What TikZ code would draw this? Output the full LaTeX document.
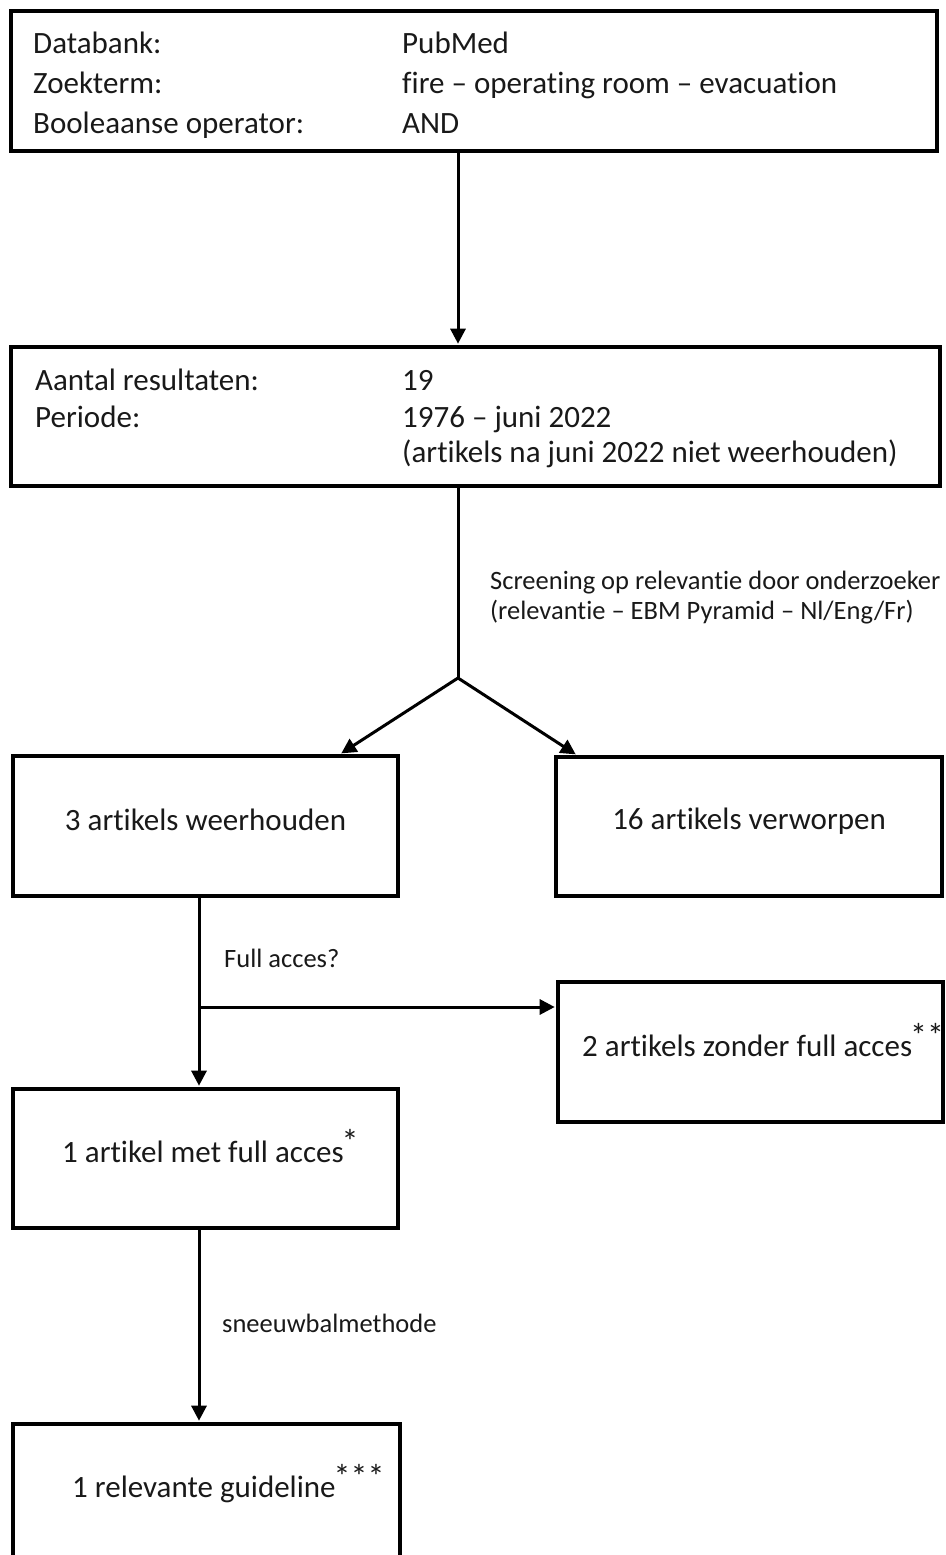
\documentclass[tikz,border=0pt]{standalone}
\usepackage{fontspec}
\setmainfont{Carlito}[Ligatures=NoCommon]
\usetikzlibrary{arrows.meta}

\newcommand{\fnmark}[1]{\kern-2pt\raisebox{9pt}{\fontsize{34}{34}\selectfont #1}}

\tikzset{
  box/.style={draw=black, line width=3.6pt, fill=none, inner sep=0pt},
  conn/.style={draw=black, line width=3pt},
  arr/.style={conn, -{Triangle[length=15pt,width=15pt]}, shorten >=1.5pt},
  maintxt/.style={inner sep=0pt, font=\fontsize{31}{40}\selectfont, text=black!90},
  rowtxt/.style={maintxt, anchor=base west},
  labtxt/.style={inner sep=0pt, align=left, font=\fontsize{26.5}{30}\selectfont, text=black!90},
}

\begin{document}
\begin{tikzpicture}[x=1pt, y=-1pt]
  \useasboundingbox (0,0) rectangle (945,1555);

  % search query box
  \node[box, minimum width=926pt, minimum height=140pt] (b1) at (474,81) {};
  \node[rowtxt] (k1a) at (33,53)  {Databank:};
  \node[rowtxt] (k1b) at (33,93)  {Zoekterm:};
  \node[rowtxt] (k1c) at (33,133) {Booleaanse operator:};
  \node[rowtxt] (v1a) at (402,53)  {PubMed};
  \node[rowtxt] (v1b) at (402,93)  {fire – operating room – evacuation};
  \node[rowtxt] (v1c) at (402,133) {AND};

  % results box
  \node[box, minimum width=929pt, minimum height=139pt] (b2) at (475.5,416.5) {};
  \node[rowtxt] (k2a) at (35,390)  {Aantal resultaten:};
  \node[rowtxt] (k2b) at (35,427)  {Periode:};
  \node[rowtxt] (v2a) at (402,390) {19};
  \node[rowtxt] (v2b) at (402,427) {1976 – juni 2022};
  \node[rowtxt] (v2c) at (402,462) {(artikels na juni 2022 niet weerhouden)};

  % screening outcome
  \node[box, minimum width=385pt, minimum height=140pt] (b3) at (205.5,826) {};
  \node[maintxt] (t3) at (205.5,820) {3 artikels weerhouden};
  \node[box, minimum width=386pt, minimum height=139pt] (b4) at (749,826.5) {};
  \node[maintxt] (t4) at (749,821) {16 artikels verworpen};

  % access split
  \node[box, minimum width=385pt, minimum height=140pt] (b5) at (750.5,1052) {};
  \node[maintxt, anchor=base west] (t5) at (582,1056) {2 artikels zonder full acces\fnmark{**}};
  \node[box, minimum width=385pt, minimum height=139pt] (b6) at (205.5,1158.5) {};
  \node[maintxt, anchor=base west] (t6) at (62,1162) {1 artikel met full acces\fnmark{*}};

  % snowball result (runs past the lower edge)
  \node[box, minimum width=387pt, minimum height=140pt] (b7) at (206.5,1494) {};
  \node[maintxt, anchor=base west] (t7) at (72,1497) {1 relevante guideline\fnmark{***}};

  % connector labels
  \node[labtxt, anchor=west] (l1) at (490,598)
    {Screening op relevantie door onderzoeker\\(relevantie – EBM Pyramid – Nl/Eng/Fr)};
  \node[labtxt, anchor=west] (l2) at (224,958) {Full acces?};
  \node[labtxt, anchor=west] (l3) at (222,1323) {sneeuwbalmethode};

  % routing points
  \coordinate (cx) at (458,0);
  \coordinate (j) at (458,678);
  \coordinate (tl) at (340,0);
  \coordinate (tr) at (577,0);
  \coordinate (lx) at (199,0);
  \coordinate (f) at (199,1007);

  % connectors
  \draw[arr] (b1.south -| cx) -- (b2.north -| cx);
  \draw[conn] (b2.south -| cx) -- (j);
  \draw[arr] (j) -- (b3.north -| tl);
  \draw[arr] (j) -- (b4.north -| tr);
  \draw[arr] (b3.south -| lx) -- (b6.north -| lx);
  \draw[arr] (f) -- (b5.west |- f);
  \draw[arr] (b6.south -| lx) -- (b7.north -| lx);
\end{tikzpicture}
\end{document}
